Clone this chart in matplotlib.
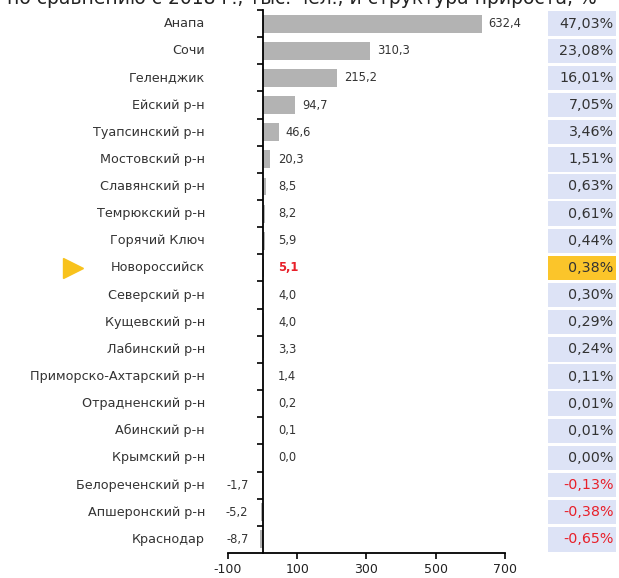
import matplotlib
matplotlib.use("Agg")
import matplotlib.pyplot as plt
from matplotlib.patches import Rectangle
import numpy as np

# data
cities = ["Анапа", "Сочи", "Геленджик", "Ейский р-н", "Туапсинский р-н",
          "Мостовский р-н", "Славянский р-н", "Темрюкский р-н", "Горячий Ключ",
          "Новороссийск", "Северский р-н", "Кущевский р-н", "Лабинский р-н",
          "Приморско-Ахтарский р-н", "Отрадненский р-н", "Абинский р-н",
          "Крымский р-н", "Белореченский р-н", "Апшеронский р-н", "Краснодар"]
growth = [632.4, 310.3, 215.2, 94.7, 46.6, 20.3, 8.5, 8.2, 5.9, 5.1,
          4.0, 4.0, 3.3, 1.4, 0.2, 0.1, 0.0, -1.7, -5.2, -8.7]
share = [47.03, 23.08, 16.01, 7.05, 3.46, 1.51, 0.63, 0.61, 0.44, 0.38,
         0.30, 0.29, 0.24, 0.11, 0.01, 0.01, 0.00, -0.13, -0.38, -0.65]
highlight = "Новороссийск"
xticks = [-100, 100, 300, 500, 700]

def fmt(v, d):
    return f"{v:.{d}f}".replace(".", ",")

fig = plt.figure(figsize=(6.19, 5.78), dpi=100)
ax = fig.add_axes([0.3683, 0.0433, 0.4475, 0.9394])

y = np.arange(len(cities))
ax.barh(y, growth, height=0.66, color="#b3b3b3")
ax.set_ylim(len(cities) - 0.5, -0.5)
ax.set_xlim(-100, 700)

for s in ["top", "right"]:
    ax.spines[s].set_visible(False)
ax.spines["left"].set_position(("data", 0))
ax.spines["left"].set_linewidth(1.3)
ax.spines["bottom"].set_linewidth(1.3)

ax.set_yticks(np.arange(-0.5, len(cities) - 1, 1))
ax.set_yticklabels([])
ax.tick_params(axis="y", direction="out", length=4, width=1.2)
ax.set_xticks(xticks)
ax.set_xticklabels([str(t) for t in xticks], fontsize=9, color="#222222")
ax.tick_params(axis="x", direction="out", length=4, width=1.2, pad=3)

trans = ax.get_yaxis_transform()
red = "#e8202a"
for i, (c, g, p) in enumerate(zip(cities, growth, share)):
    hl = c == highlight
    ax.text(-0.083, i, c, transform=trans, ha="right", va="center",
            fontsize=9.2, color="#333333")
    if g >= 0:
        ax.annotate(fmt(g, 1), (max(g, 25), i), xytext=(5, 0),
                    textcoords="offset points", ha="left", va="center",
                    fontsize=8.3, color=red if hl else "#333333",
                    fontweight="bold" if hl else "normal")
    else:
        ax.annotate(fmt(g, 1), (min(g, -25), i), xytext=(-4, 0),
                    textcoords="offset points", ha="right", va="center",
                    fontsize=8.3, color="#333333")
    box = "#fbc52a" if hl else "#dde3f6"
    ax.add_patch(Rectangle((1.157, i - 0.45), 0.245, 0.9, transform=trans,
                           facecolor=box, edgecolor="none", clip_on=False))
    ax.text(1.392, i, fmt(p, 2) + "%", transform=trans, ha="right", va="center",
            fontsize=10.3, color=red if p < 0 else "#333333")
    if hl:
        ax.plot([-0.56], [i], marker=">", markersize=15, color="#f8c21c",
                transform=trans, clip_on=False)

# title line, cropped at the top as in the source picture
fig.text(0.012, 0.9935, "по сравнению с 2018 г., тыс. чел., и структура прироста, %",
         fontsize=13.5, color="#222222", va="baseline", ha="left")

fig.savefig("out.png", dpi=100)
